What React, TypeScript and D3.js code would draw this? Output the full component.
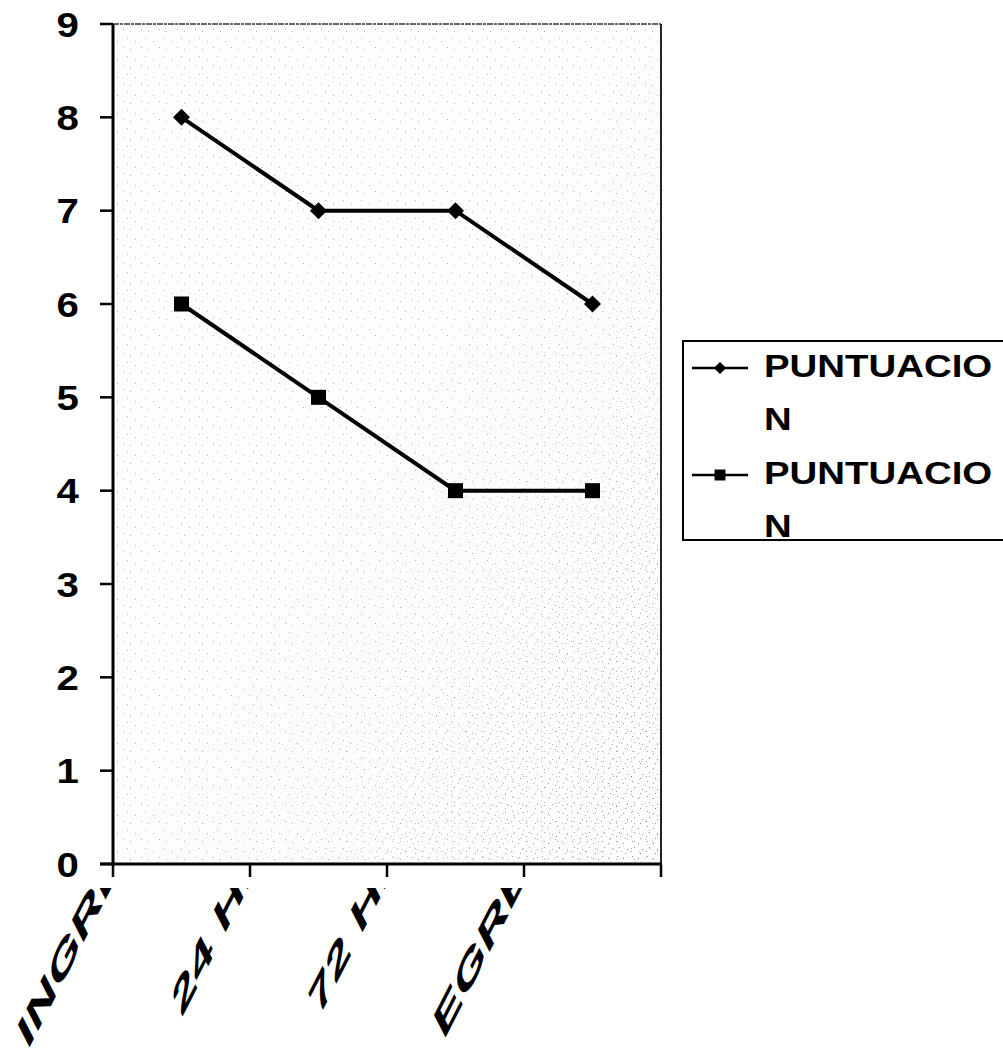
import React from 'react';
import * as d3 from 'd3';

const categories = ['INGRESO', '24 HRS', '72 HRS', 'EGRESO'];
const series1 = [8, 7, 7, 6];
const series2 = [6, 5, 4, 4];
const seriesNames = ['PUNTUACION', 'PUNTUACION'];
const yTicks = [0, 1, 2, 3, 4, 5, 6, 7, 8, 9];

const FONT = '"Liberation Sans", Arial, Helvetica, sans-serif';

// deterministic speckle spots for the scanned-paper texture
const speckA = [[1, 2], [9, 5], [4, 13], [15, 11]];
const speckB = [[2, 1], [8, 3], [12, 9], [4, 7], [10, 13], [1, 11]];

export default function App() {
  const W = 1003, H = 1055;
  const left = 113, right = 661, top = 24, bottom = 864;

  const x = d3.scaleBand<string>().domain(categories).range([left, right]);
  const y = d3.scaleLinear().domain([0, 9]).range([bottom, top]);
  const cx = (i: number) => (x(categories[i]) as number) + x.bandwidth() / 2;

  const line = d3.line<number>().x((_, i) => cx(i)).y((d) => y(d));
  const diamond = d3.symbol().type(d3.symbolSquare).size(145)()!;
  const square = d3.symbol().type(d3.symbolSquare).size(225)()!;
  const diamondLeg = d3.symbol().type(d3.symbolSquare).size(75)()!;
  const squareLeg = d3.symbol().type(d3.symbolSquare).size(120)()!;

  const boundaries = [...categories.map((c) => x(c) as number), right];

  const legendX = 683, legendY = 341;
  const legendRows = [
    { name: seriesNames[0], marker: 'diamond', ly: 368, ty: 377 },
    { name: seriesNames[1], marker: 'square', ly: 475, ty: 484 },
  ];

  return (
    <svg width={W} height={H} style={{ position: 'absolute', left: 0, top: 0, background: '#fff' }}>
      <defs>
        <pattern id="speckA" width={18} height={18} patternUnits="userSpaceOnUse">
          {speckA.map(([a, b], i) => (
            <rect key={i} x={a} y={b} width={1} height={1} fill="#666" />
          ))}
        </pattern>
        <pattern id="speckB" width={15} height={15} patternUnits="userSpaceOnUse">
          {speckB.map(([a, b], i) => (
            <rect key={i} x={a} y={b} width={1} height={1} fill="#555" />
          ))}
        </pattern>
        <linearGradient id="fadeG" x1="0" y1="0" x2="1" y2="1">
          <stop offset="0.5" stopColor="#fff" stopOpacity={0} />
          <stop offset="1" stopColor="#fff" stopOpacity={1} />
        </linearGradient>
        <mask id="fadeM">
          <rect x={left} y={top} width={right - left} height={bottom - top} fill="url(#fadeG)" />
        </mask>
        <clipPath id="labClip">
          <rect x={0} y={888} width={W} height={H - 888} />
        </clipPath>
      </defs>

      {/* plot area */}
      <rect x={left} y={top} width={right - left} height={bottom - top} fill="#fdfdfd" />
      <rect x={left} y={top} width={right - left} height={bottom - top} fill="url(#speckA)" opacity={0.5} />
      <rect x={left} y={top} width={right - left} height={bottom - top} fill="url(#speckB)" mask="url(#fadeM)" opacity={0.7} />
      <line x1={left} x2={right} y1={top} y2={top} stroke="#333" strokeWidth={1.6} strokeDasharray="6 1 3 1" />
      <line x1={right} x2={right} y1={top} y2={bottom} stroke="#222" strokeWidth={2} />

      {/* y axis */}
      <line x1={left} x2={left} y1={top} y2={bottom + 1.5} stroke="#000" strokeWidth={3} />
      {yTicks.map((t) => (
        <g key={t}>
          <line x1={100} x2={left} y1={y(t)} y2={y(t)} stroke="#000" strokeWidth={2.5} />
          <text
            transform={`translate(79,${y(t)}) scale(1.15,1)`}
            textAnchor="end"
            dy="0.36em"
            fontFamily={FONT}
            fontWeight="bold"
            fontSize={35}
            fill="#000"
          >
            {t}
          </text>
        </g>
      ))}

      {/* x axis */}
      <line x1={100} x2={right + 1} y1={bottom} y2={bottom} stroke="#000" strokeWidth={3} />
      {boundaries.map((b, i) => (
        <line key={i} x1={b} x2={b} y1={bottom} y2={bottom + 13} stroke="#000" strokeWidth={2.5} />
      ))}
      <g clipPath="url(#labClip)">
        {categories.map((c, i) => (
          <text
            key={c}
            transform={`translate(${cx(i) - 84},915) scale(1,1.95) rotate(-45) scale(1.3,0.72)`}
            textAnchor="middle"
            fontFamily={FONT}
            fontWeight="bold"
            fontSize={33}
            fill="#000"
          >
            {c}
          </text>
        ))}
      </g>

      {/* series lines */}
      <path d={line(series1) || ''} fill="none" stroke="#000" strokeWidth={4} />
      <path d={line(series2) || ''} fill="none" stroke="#000" strokeWidth={4} />
      {series1.map((v, i) => (
        <path key={'a' + i} d={diamond} transform={`translate(${cx(i)},${y(v)}) rotate(45)`} fill="#000" />
      ))}
      {series2.map((v, i) => (
        <path key={'b' + i} d={square} transform={`translate(${cx(i)},${y(v)})`} fill="#000" />
      ))}

      {/* legend */}
      <rect x={legendX} y={legendY} width={340} height={199} fill="#fff" stroke="#000" strokeWidth={2} />
      {legendRows.map((r, i) => (
        <g key={i}>
          <line x1={692} x2={748} y1={r.ly} y2={r.ly} stroke="#000" strokeWidth={2.5} />
          <path
            d={r.marker === 'diamond' ? diamondLeg : squareLeg}
            transform={`translate(720,${r.ly})${r.marker === 'diamond' ? ' rotate(45)' : ''}`}
            fill="#000"
          />
          <text
            transform={`translate(764,${r.ty}) scale(1.2,1)`}
            fontFamily={FONT}
            fontWeight="bold"
            fontSize={32}
            fill="#000"
          >
            {r.name.slice(0, 9)}
          </text>
          <text
            transform={`translate(764,${r.ty + 53}) scale(1.2,1)`}
            fontFamily={FONT}
            fontWeight="bold"
            fontSize={32}
            fill="#000"
          >
            {r.name.slice(9)}
          </text>
        </g>
      ))}
    </svg>
  );
}
